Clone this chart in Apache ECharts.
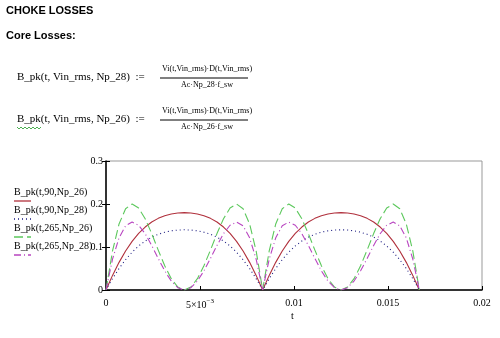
<!DOCTYPE html>
<html><head><meta charset="utf-8">
<script src="https://cdn.jsdelivr.net/npm/echarts@6/dist/echarts.min.js"></script>
<style>html,body{margin:0;padding:0;background:#fff}#c{width:500px;height:338px}</style>
</head><body><div id="c"></div>
<script>
// sample times (s)
var tValues = [0,0.000347,0.000694,0.001042,0.001389,0.001736,0.002083,0.002431,0.002778,0.003125,0.003472,0.003819,0.004167,0.004514,0.004861,0.005208,0.005556,0.005903,0.00625,0.006597,0.006944,0.007292,0.007639,0.007986,0.008333,0.008681,0.009028,0.009375,0.009722,0.010069,0.010417,0.010764,0.011111,0.011458,0.011806,0.012153,0.0125,0.012847,0.013194,0.013542,0.013889,0.014236,0.014583,0.014931,0.015278,0.015625,0.015972,0.016319,0.016667];
// B_pk(t,90,Np_26)
var b90n26 = [0,0.0340,0.0643,0.0907,0.1131,0.1316,0.1464,0.1580,0.1666,0.1728,0.1769,0.1792,0.1800,0.1792,0.1769,0.1728,0.1666,0.1580,0.1464,0.1316,0.1131,0.0907,0.0643,0.0340,0,0.0340,0.0643,0.0907,0.1131,0.1316,0.1464,0.1580,0.1666,0.1728,0.1769,0.1792,0.1800,0.1792,0.1769,0.1728,0.1666,0.1580,0.1464,0.1316,0.1131,0.0907,0.0643,0.0340,0];
// B_pk(t,90,Np_28)
var b90n28 = [0,0.0264,0.0500,0.0705,0.0880,0.1024,0.1139,0.1229,0.1296,0.1344,0.1376,0.1394,0.1400,0.1394,0.1376,0.1344,0.1296,0.1229,0.1139,0.1024,0.0880,0.0705,0.0500,0.0264,0,0.0264,0.0500,0.0705,0.0880,0.1024,0.1139,0.1229,0.1296,0.1344,0.1376,0.1394,0.1400,0.1394,0.1376,0.1344,0.1296,0.1229,0.1139,0.1024,0.0880,0.0705,0.0500,0.0264,0];
// B_pk(t,265,Np_26)
var b265n26 = [0,0.0908,0.1535,0.1890,0.2000,0.1905,0.1657,0.1312,0.0928,0.0563,0.0263,0.0068,0,0.0068,0.0263,0.0563,0.0928,0.1312,0.1657,0.1905,0.2000,0.1890,0.1535,0.0908,0,0.0908,0.1535,0.1890,0.2000,0.1905,0.1657,0.1312,0.0928,0.0563,0.0263,0.0068,0,0.0068,0.0263,0.0563,0.0928,0.1312,0.1657,0.1905,0.2000,0.1890,0.1535,0.0908,0];
// B_pk(t,265,Np_28)
var b265n28 = [0,0.0717,0.1213,0.1493,0.1580,0.1505,0.1309,0.1036,0.0733,0.0445,0.0208,0.0054,0,0.0054,0.0208,0.0445,0.0733,0.1036,0.1309,0.1505,0.1580,0.1493,0.1213,0.0717,0,0.0717,0.1213,0.1493,0.1580,0.1505,0.1309,0.1036,0.0733,0.0445,0.0208,0.0054,0,0.0054,0.0208,0.0445,0.0733,0.1036,0.1309,0.1505,0.1580,0.1493,0.1213,0.0717,0];
var seriesNames = ['B_pk(t,90,Np_26)','B_pk(t,90,Np_28)','B_pk(t,265,Np_26)','B_pk(t,265,Np_28)'];
var xTicks = [0,0.005,0.01,0.015,0.02];
var yTicks = [0,0.1,0.2,0.3];

var SERIF = '"Liberation Serif","DejaVu Serif",serif';
var SANS = '"Liberation Sans",Arial,sans-serif';
var colors = ['#b0303c','#1a1a80','#5cc85c','#b844c0'];
var dashes = ['solid',[1,3],[9,4],[7,3,1,3]];
var allData = [b90n26,b90n28,b265n26,b265n28];

function pairs(arr){ return tValues.map(function(t,i){return [t,arr[i]];}); }

var chart = echarts.init(document.getElementById('c'),null,{renderer:'canvas'});
var series = allData.map(function(d,k){
  return {name:seriesNames[k],type:'line',data:pairs(d),showSymbol:false,symbol:'none',
    lineStyle:{color:colors[k],width:1.1,type:dashes[k]},z:3+k,animation:false};
});

var graphics = [
  {type:'text',left:6,top:5,style:{text:'CHOKE LOSSES',font:'bold 11px '+SANS,fill:'#000'}},
  {type:'text',left:6,top:30,style:{text:'Core Losses:',font:'bold 11px '+SANS,fill:'#000'}},
  // eq 1
  {type:'text',left:17,top:72,style:{text:'B_pk(t, Vin_rms, Np_28)  :=',font:'11px '+SERIF,fill:'#000'}},
  {type:'text',left:162,top:65,style:{text:'Vi(t,Vin_rms)·D(t,Vin_rms)',font:'8px '+SERIF,fill:'#000'}},
  {type:'line',shape:{x1:160,y1:78,x2:248,y2:78},style:{stroke:'#000',lineWidth:1}},
  {type:'text',left:181,top:81,style:{text:'Ac·Np_28·f_sw',font:'8px '+SERIF,fill:'#000'}},
  // eq 2
  {type:'text',left:17,top:114,style:{text:'B_pk(t, Vin_rms, Np_26)  :=',font:'11px '+SERIF,fill:'#000'}},
  {type:'text',left:162,top:107,style:{text:'Vi(t,Vin_rms)·D(t,Vin_rms)',font:'8px '+SERIF,fill:'#000'}},
  {type:'line',shape:{x1:160,y1:120,x2:248,y2:120},style:{stroke:'#000',lineWidth:1}},
  {type:'text',left:181,top:123,style:{text:'Ac·Np_26·f_sw',font:'8px '+SERIF,fill:'#000'}},
  {type:'polyline',shape:{points:[[17,127],[19,129],[21,127],[23,129],[25,127],[27,129],[29,127],[31,129],[33,127],[35,129],[37,127],[39,129],[41,127]]},style:{stroke:'#4caf50',lineWidth:1,fill:null}},
  {type:'text',left:291,top:311,style:{text:'t',font:'10px '+SERIF,fill:'#000'}}
];
// legend
var legY = [187,205,223,241];
seriesNames.forEach(function(n,k){
  graphics.push({type:'text',left:14,top:legY[k],style:{text:n,font:'10px '+SERIF,fill:'#000'}});
  graphics.push({type:'line',shape:{x1:14,y1:legY[k]+14,x2:31,y2:legY[k]+14},style:{stroke:colors[k],lineWidth:1.3,lineDash:dashes[k]==='solid'?null:dashes[k]}});
});

chart.setOption({
  animation:false,
  backgroundColor:'#fff',
  grid:{left:106,right:18,top:161,bottom:48,show:true,borderColor:'#999',borderWidth:1},
  xAxis:{type:'value',min:xTicks[0],max:xTicks[xTicks.length-1],interval:0.005,
    axisLine:{show:true,onZero:false,lineStyle:{color:'#000',width:1.5}},
    axisTick:{show:true,inside:true,length:4,lineStyle:{color:'#000'}},
    splitLine:{show:false},
    axisLabel:{margin:8,fontFamily:SERIF,fontSize:10,color:'#000',
      formatter:function(v){
        if(Math.abs(v-0.005)<1e-9) return '{b|5×10}{s|−3}';
        return '{b|'+(+v.toFixed(4))+'}';
      },
      rich:{b:{fontFamily:SERIF,fontSize:10,color:'#000'},s:{fontFamily:SERIF,fontSize:7,color:'#000',padding:[0,0,7,0]}}}
  },
  yAxis:[{type:'value',min:yTicks[0],max:yTicks[yTicks.length-1],interval:0.1,
    axisLine:{show:true,onZero:false,lineStyle:{color:'#000',width:1.5}},
    axisTick:{show:true,inside:true,length:4,lineStyle:{color:'#000'}},
    splitLine:{show:false},
    axisLabel:{margin:3,fontFamily:SERIF,fontSize:10,color:'#000',formatter:function(v){return String(+v.toFixed(2));}}},
   {type:'value',position:'right',min:0,max:0.3,interval:0.1,
    axisLine:{show:false},axisTick:{show:true,inside:true,length:4,lineStyle:{color:'#000'}},
    axisLabel:{show:false},splitLine:{show:false}}],
  series:series,
  graphic:graphics
});
</script></body></html>
